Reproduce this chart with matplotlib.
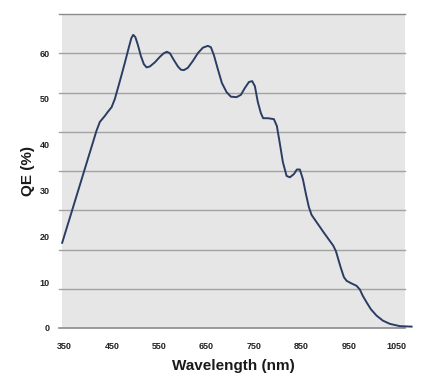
import matplotlib
matplotlib.use("Agg")
import matplotlib.pyplot as plt

# QE curve
wavelength = [345.4, 417.9, 424.9, 435.4, 441.8, 449.6, 456.5, 467.1, 477.6, 486.1,
              491.4, 495.2, 499.8, 505.1, 511.4, 517.7, 523.4, 530.4, 540.9, 551.5,
              559.9, 566.2, 572.6, 581.0, 589.5, 595.8, 602.1, 610.5, 621.1, 631.6,
              642.2, 652.7, 659.1, 665.4, 673.8, 682.3, 692.2, 701.3, 713.3, 722.4,
              730.8, 739.3, 746.2, 751.9, 758.2, 764.6, 769.4, 779.4, 792.0, 798.3,
              804.7, 811.0, 818.8, 825.8, 834.2, 840.5, 846.8, 853.2, 859.5, 865.8,
              871.5, 884.8, 899.6, 917.1, 922.8, 927.6, 933.3, 939.7, 945.4, 954.4,
              966.5, 973.4, 979.7, 987.6, 996.6, 1008.6, 1022.0, 1036.7, 1057.8, 1082.5]
qe = [18.6, 43.1, 45.0, 46.3, 47.2, 48.2, 50.0, 53.9, 57.9, 61.3,
      63.3, 64.0, 63.5, 61.8, 59.4, 57.6, 56.9, 57.1, 58.0, 59.2,
      60.0, 60.3, 60.0, 58.5, 57.1, 56.4, 56.3, 56.8, 58.3, 60.0,
      61.2, 61.6, 61.3, 59.6, 56.5, 53.5, 51.5, 50.5, 50.4, 50.9,
      52.4, 53.7, 53.9, 52.8, 49.3, 46.9, 45.8, 45.8, 45.6, 44.1,
      40.2, 36.2, 33.2, 32.9, 33.6, 34.6, 34.6, 32.5, 29.3, 26.4,
      24.7, 22.7, 20.5, 18.0, 16.8, 15.1, 13.1, 11.1, 10.3, 9.8,
      9.2, 8.4, 7.0, 5.6, 4.1, 2.7, 1.6, 0.9, 0.4, 0.3]

x_ticks = [350, 450, 550, 650, 750, 850, 950, 1050]
y_ticks = [0, 10, 20, 30, 40, 50, 60]

plt.rcParams['font.family'] = ['Liberation Sans', 'DejaVu Sans']

fig = plt.figure(figsize=(4.24, 3.82), dpi=100)
ax = fig.add_axes([0.1462, 0.1414, 0.8083, 0.8213])
ax.set_facecolor("#e6e6e6")

y_top = 68.5
ax.set_xlim(345, 1068)
ax.set_ylim(0, y_top)

# the grid has 8 even bands, not tied to the tick labels
for k in range(1, 9):
    col = "#8a8a8a" if k == 8 else "#a3a3a3"
    ax.axhline(k * y_top / 8, xmin=-0.009, xmax=1.0, color=col, lw=1.0, clip_on=False, zorder=1)
ax.axhline(0, xmin=-0.009, xmax=1.0, color="#8a8a8a", lw=1.2, clip_on=False, zorder=1)

ax.plot(wavelength, qe, color="#2b3d63", lw=1.4, clip_on=False, zorder=3)

for s in ax.spines.values():
    s.set_visible(False)

ax.set_xticks(x_ticks)
ax.set_yticks(y_ticks)
ax.tick_params(length=0, labelsize=6.5, colors="#222222")
ax.tick_params(axis="x", pad=10)
ax.tick_params(axis="y", pad=9)
for lab in ax.get_xticklabels() + ax.get_yticklabels():
    lab.set_fontweight("bold")

ax.set_xlabel("Wavelength (nm)", fontsize=11, fontweight="bold", color="#1a1a1a", labelpad=6)
ax.set_ylabel("QE (%)", fontsize=11, fontweight="bold", color="#1a1a1a", labelpad=3)

fig.savefig("out.png", dpi=100, facecolor="white")
